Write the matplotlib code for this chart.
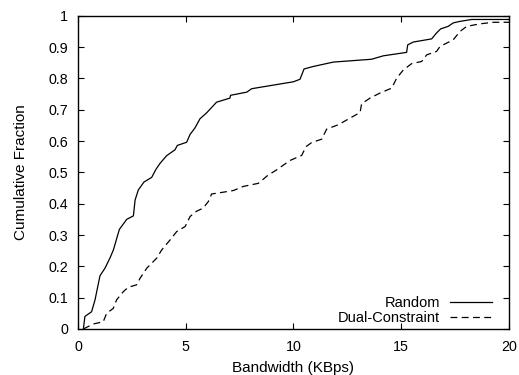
import numpy as np
import matplotlib
matplotlib.use("Agg")
import matplotlib.pyplot as plt

# -----------------
# DATA (bandwidth in KBps, cumulative fraction)
random_bw = [0.25, 0.32, 0.63, 0.79, 1.02, 1.25, 1.48, 1.64, 1.92, 2.26, 2.57, 2.65,
             2.80, 3.06, 3.42, 3.62, 3.81, 4.11, 4.50, 4.61, 5.04, 5.20, 5.43, 5.66,
             5.97, 6.43, 7.05, 7.08, 7.83, 8.06, 9.37, 9.99, 10.30, 10.49, 10.92,
             11.85, 13.62, 14.17, 15.25, 15.30, 15.56, 16.41, 16.64, 16.83, 17.18,
             17.41, 17.73, 18.27, 20.0]
random_cdf = [0.0, 0.04, 0.055, 0.093, 0.17, 0.194, 0.226, 0.252, 0.318, 0.35, 0.361,
              0.412, 0.444, 0.469, 0.484, 0.51, 0.529, 0.553, 0.572, 0.586, 0.596,
              0.621, 0.642, 0.671, 0.690, 0.724, 0.737, 0.746, 0.756, 0.767, 0.782,
              0.789, 0.797, 0.830, 0.838, 0.852, 0.861, 0.872, 0.883, 0.907, 0.916,
              0.926, 0.945, 0.958, 0.966, 0.977, 0.982, 0.988, 0.988]

dual_bw = [0.25, 0.71, 1.17, 1.33, 1.64, 1.79, 2.10, 2.33, 2.72, 2.88, 3.19, 3.65,
           3.88, 4.27, 4.58, 4.97, 5.20, 5.48, 5.81, 6.05, 6.20, 6.59, 7.21, 7.67,
           8.37, 8.80, 9.22, 9.84, 10.38, 10.58, 10.84, 11.31, 11.54, 12.08, 12.62,
           13.09, 13.16, 13.55, 14.01, 14.56, 14.79, 15.10, 15.48, 15.95, 16.18,
           16.64, 16.80, 17.41, 17.73, 18.04, 18.65, 19.27, 20.0]
dual_cdf = [0.0, 0.016, 0.023, 0.05, 0.066, 0.093, 0.119, 0.133, 0.141, 0.162, 0.194,
            0.226, 0.252, 0.284, 0.311, 0.327, 0.359, 0.375, 0.386, 0.407, 0.431,
            0.435, 0.442, 0.455, 0.465, 0.490, 0.508, 0.538, 0.554, 0.582, 0.595,
            0.606, 0.638, 0.652, 0.673, 0.691, 0.719, 0.737, 0.753, 0.769, 0.801,
            0.827, 0.847, 0.854, 0.875, 0.886, 0.902, 0.923, 0.950, 0.966, 0.974,
            0.979, 0.979]

series_names = ["Random", "Dual-Constraint"]
x_ticks = [0, 5, 10, 15, 20]
y_ticks = [0, 0.1, 0.2, 0.3, 0.4, 0.5, 0.6, 0.7, 0.8, 0.9, 1]
y_tick_labels = ["0", "0.1", "0.2", "0.3", "0.4", "0.5", "0.6", "0.7", "0.8", "0.9", "1"]

# ----------------
# PLOTTING SECTION
# ----------------
plt.rcParams['font.family'] = ['Liberation Sans', 'DejaVu Sans']

fig = plt.figure(figsize=(5.19, 3.75), dpi=100)
ax = fig.add_axes([0.1503, 0.1227, 0.8304, 0.8354])

ax.plot(random_bw, random_cdf, color="k", linewidth=0.9, label=series_names[0])
ax.plot(dual_bw, dual_cdf, color="k", linewidth=0.9, dashes=(5.5, 3.5),
        label=series_names[1])

ax.set_xlim(0, 20)
ax.set_ylim(0, 1)
ax.set_xticks(x_ticks)
ax.set_yticks(y_ticks)
ax.set_yticklabels(y_tick_labels)
ax.tick_params(direction="in", length=4, width=0.8, top=True, right=True,
               labelsize=10.3, colors="k")
ax.tick_params(axis="x", pad=8)
ax.tick_params(axis="y", pad=7)
for sp in ax.spines.values():
    sp.set_linewidth(1.0)

ax.set_xlabel("Bandwidth (KBps)", fontsize=11, labelpad=5)
ax.set_ylabel("Cumulative Fraction", fontsize=11, labelpad=15)

ax.legend(loc="lower right", frameon=False, markerfirst=False, fontsize=10.5,
          handlelength=2.9, handletextpad=0.7, labelspacing=0.05,
          borderaxespad=0.3, bbox_to_anchor=(0.985, -0.019))

fig.savefig("out.png", dpi=100)
